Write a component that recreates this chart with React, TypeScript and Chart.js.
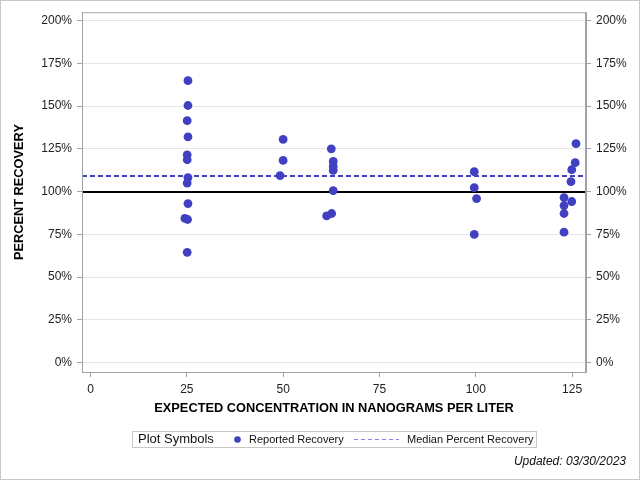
import React, { useEffect, useRef } from 'react';
import { Chart, registerables } from 'chart.js';

Chart.register(...registerables);

// Expected concentration (ng/L) for each reported spike, with its percent recovery
const concentrations = [
  25.3, 25.3, 25.1, 25.3, 25.1, 25.1, 25.3, 25.1, 25.3, 24.5, 25.2, 25.1,
  50.0, 50.0, 49.2,
  62.5, 63.0, 63.0, 63.0, 63.0, 61.3, 62.6,
  99.6, 99.6, 100.2, 99.6,
  126.0, 125.8, 124.9, 124.7, 122.9, 124.9, 122.9, 122.9, 122.9,
];
const recoveries = [
  164.8, 150.3, 141.4, 132.0, 121.5, 118.6, 108.2, 105.0, 93.0, 84.3, 83.7, 64.5,
  130.5, 118.2, 109.3,
  125.0, 117.6, 114.7, 112.4, 100.6, 85.8, 87.2,
  111.6, 102.3, 95.9, 75.0,
  128.0, 116.9, 112.8, 105.8, 96.5, 94.2, 91.8, 87.2, 76.3,
];

const medianRecovery = 109;
const referenceRecovery = 100;

const xTickValues = [0, 25, 50, 75, 100, 125];
const yTickValues = [0, 25, 50, 75, 100, 125, 150, 175, 200];

const xTitle = 'EXPECTED CONCENTRATION IN NANOGRAMS PER LITER';
const yTitle = 'PERCENT RECOVERY';
const legendTitle = 'Plot Symbols';
const pointLabel = 'Reported Recovery';
const medianLabel = 'Median Percent Recovery';
const updatedText = 'Updated: 03/30/2023';

const BLUE = '#4040c0';
const AXIS_GRAY = '#a0a3a8';
const FONT = '"Liberation Sans", Arial, sans-serif';

// reference line, median line, plot frame, legend and footer
const decorations = {
  id: 'decorations',
  beforeDatasetsDraw(chart: Chart) {
    const { ctx, chartArea } = chart;
    const y = chart.scales.y;
    ctx.save();
    ctx.lineWidth = 2;
    ctx.strokeStyle = '#000';
    const yRef = Math.round(y.getPixelForValue(referenceRecovery));
    ctx.beginPath();
    ctx.moveTo(chartArea.left, yRef);
    ctx.lineTo(chartArea.right, yRef);
    ctx.stroke();

    ctx.strokeStyle = BLUE;
    ctx.setLineDash([5, 3]);
    const yMed = Math.round(y.getPixelForValue(medianRecovery));
    ctx.beginPath();
    ctx.moveTo(chartArea.left, yMed);
    ctx.lineTo(chartArea.right, yMed);
    ctx.stroke();
    ctx.restore();
  },
  afterDraw(chart: Chart) {
    const { ctx, chartArea } = chart;
    ctx.save();
    // plot frame
    ctx.strokeStyle = AXIS_GRAY;
    ctx.lineWidth = 1;
    ctx.strokeRect(chartArea.left + 0.5, chartArea.top + 0.5,
      chartArea.right - chartArea.left - 1, chartArea.bottom - chartArea.top);
    // outer frame
    ctx.strokeStyle = '#c8c8c8';
    ctx.strokeRect(0.5, 0.5, 639, 479);

    // legend
    ctx.strokeStyle = '#c8c8c8';
    ctx.strokeRect(132.5, 431.5, 404, 16);
    ctx.fillStyle = '#111';
    ctx.textBaseline = 'middle';
    ctx.font = `13px ${FONT}`;
    ctx.fillText(legendTitle, 138, 439.5);
    ctx.fillStyle = BLUE;
    ctx.beginPath();
    ctx.arc(237.5, 439.5, 3.3, 0, Math.PI * 2);
    ctx.fill();
    ctx.fillStyle = '#111';
    ctx.font = `11px ${FONT}`;
    ctx.fillText(pointLabel, 249, 439.5);
    ctx.strokeStyle = '#8484f0';
    ctx.setLineDash([4, 3]);
    ctx.beginPath();
    ctx.moveTo(354, 439.5);
    ctx.lineTo(399, 439.5);
    ctx.stroke();
    ctx.setLineDash([]);
    ctx.fillText(medianLabel, 407, 439.5);

    ctx.font = `italic 12px ${FONT}`;
    ctx.textAlign = 'right';
    ctx.fillText(updatedText, 626, 462);
    ctx.restore();
  },
};

const App: React.FC = () => {
  const chartRef = useRef<HTMLCanvasElement>(null);
  const chartInstance = useRef<Chart | null>(null);

  useEffect(() => {
    if (!chartRef.current) return;
    const ctx = chartRef.current.getContext('2d');
    if (!ctx) return;

    const tickFont = { family: FONT, size: 12 };
    const titleFont = { family: FONT, size: 12.8, weight: 'bold' as const };

    chartInstance.current = new Chart(ctx, {
      type: 'scatter',
      data: {
        datasets: [
          {
            label: pointLabel,
            data: concentrations.map((x, i) => ({ x, y: recoveries[i] })),
            backgroundColor: BLUE,
            borderWidth: 0,
            pointRadius: 4.4,
            pointHoverRadius: 4.4,
          },
        ],
      },
      options: {
        responsive: false,
        animation: false,
        layout: { padding: { top: 11, bottom: 63, left: 0, right: 0 } },
        plugins: {
          legend: { display: false },
          tooltip: { enabled: false },
        },
        scales: {
          x: {
            type: 'linear',
            position: 'bottom',
            min: -2.2,
            max: 128.6,
            afterBuildTicks: (scale) => {
              scale.ticks = xTickValues.map(value => ({ value }));
            },
            afterFit: (scale) => {
              scale.height = 45;
            },
            grid: {
              drawOnChartArea: false,
              tickLength: 5,
              tickColor: AXIS_GRAY,
            },
            border: { color: AXIS_GRAY },
            ticks: { font: tickFont, color: '#222', padding: 5, maxRotation: 0 },
            title: {
              display: true,
              text: xTitle,
              font: titleFont,
              color: '#000',
              padding: { top: 0, bottom: 1 },
            },
          },
          y: {
            type: 'linear',
            position: 'left',
            min: -5.4,
            max: 204.8,
            afterBuildTicks: (scale) => {
              scale.ticks = yTickValues.map(value => ({ value }));
            },
            afterFit: (scale) => {
              scale.width = 82;
            },
            grid: {
              color: '#e6e6e6',
              tickLength: 5,
              tickColor: AXIS_GRAY,
            },
            border: { color: AXIS_GRAY },
            ticks: {
              font: tickFont,
              color: '#222',
              padding: 5,
              callback: (v) => `${v}%`,
            },
            title: {
              display: true,
              text: yTitle,
              font: titleFont,
              color: '#000',
              padding: { top: 12, bottom: 0 },
            },
          },
          y2: {
            type: 'linear',
            position: 'right',
            min: -5.4,
            max: 204.8,
            afterBuildTicks: (scale) => {
              scale.ticks = yTickValues.map(value => ({ value }));
            },
            afterFit: (scale) => {
              scale.width = 54;
            },
            grid: {
              drawOnChartArea: false,
              tickLength: 5,
              tickColor: AXIS_GRAY,
            },
            border: { color: AXIS_GRAY },
            ticks: {
              font: tickFont,
              color: '#222',
              padding: 5,
              callback: (v) => `${v}%`,
            },
          },
        },
      },
      plugins: [decorations],
    });

    return () => {
      if (chartInstance.current) {
        chartInstance.current.destroy();
        chartInstance.current = null;
      }
    };
  }, []);

  return (
    <div style={{ position: 'absolute', left: 0, top: 0, width: 640, height: 480, background: '#fff' }}>
      <canvas ref={chartRef} width={640} height={480}></canvas>
    </div>
  );
};

export default App;
